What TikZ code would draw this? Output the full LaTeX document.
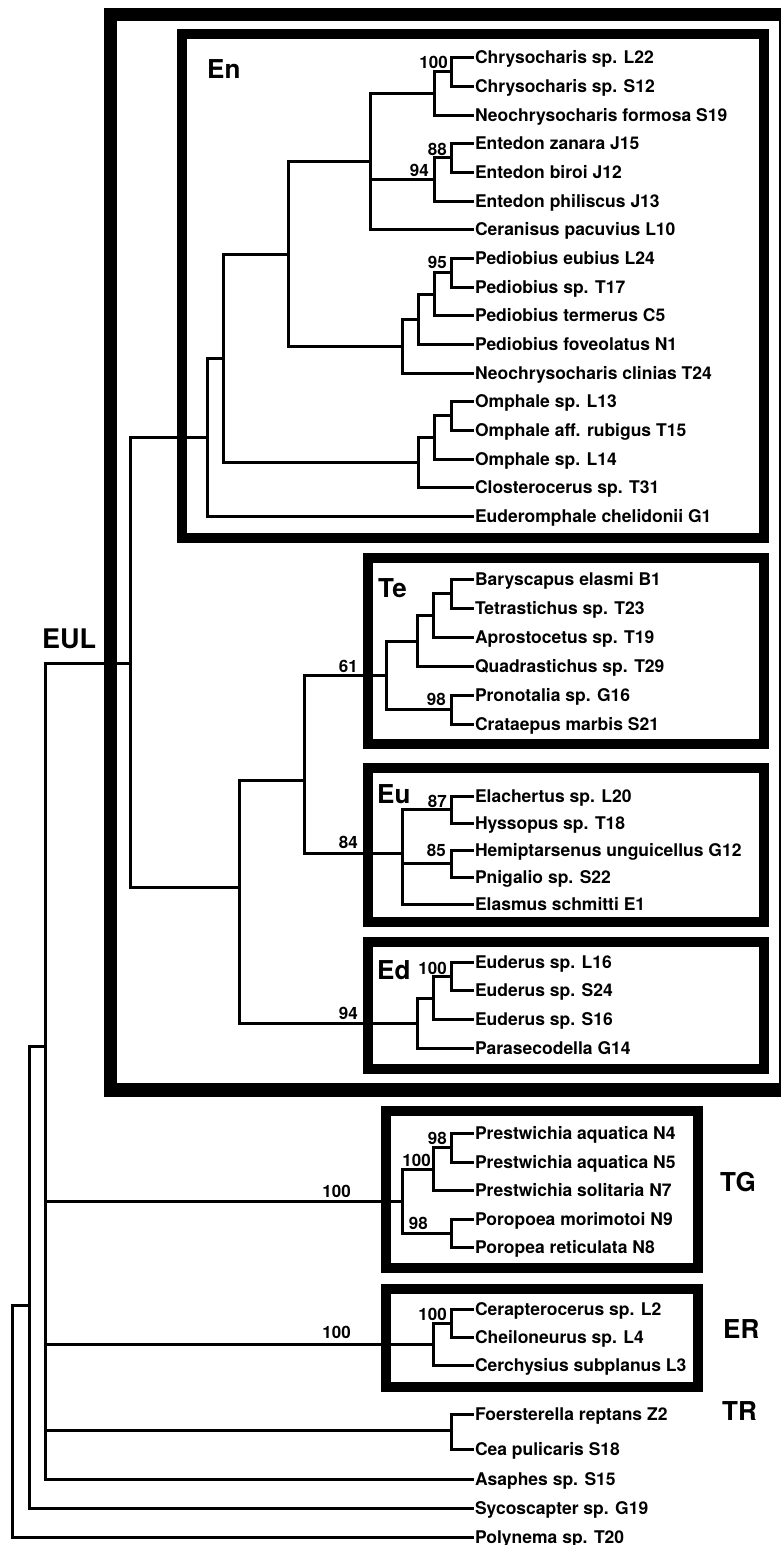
\documentclass[tikz,border=0pt]{standalone}
\usepackage{fontspec}
\setmainfont{TeX Gyre Heros}
\begin{document}
\begin{tikzpicture}[x=1pt, y=-1pt,
  branch/.style={line width=3pt, line join=miter, line cap=rect},
  cladebox/.style={line width=10pt},
  taxon/.style={anchor=west, inner xsep=3pt, inner ysep=0pt, outer sep=0pt,
    text height=12.6pt, text depth=0pt, font=\bfseries\fontsize{17.5}{20}\selectfont},
  support/.style={anchor=base east, inner sep=0pt, font=\bfseries\fontsize{17}{20}\selectfont},
  group/.style={anchor=base west, inner sep=0pt, font=\bfseries\fontsize{26}{30}\selectfont}]
  \useasboundingbox (0,0) rectangle (781,1545);
  \clip (0,0) rectangle (781,1545);

  % draw clade boxes
  \draw[line width=13.5pt] (110.5,14.5) rectangle (785.75,1090);
  \draw[cladebox] (182,34)    rectangle (763.5,538);
  \draw[cladebox] (368,557.5) rectangle (763.5,743.5);
  \draw[cladebox] (368,768)   rectangle (763.5,921.5);
  \draw[cladebox] (368,941.5) rectangle (764,1068.5);
  \draw[cladebox] (386,1111)  rectangle (697.5,1268);
  \draw[cladebox] (386,1288.5) rectangle (697.5,1386.5);

  % draw taxa
  \foreach \name/\y/\txt in {
    tL22/57/Chrysocharis sp. L22, tS12/86/Chrysocharis sp. S12,
    tS19/115/Neochrysocharis formosa S19, tJ15/143/Entedon zanara J15,
    tJ12/172/Entedon biroi J12, tJ13/201/Entedon philiscus J13,
    tL10/229/Ceranisus pacuvius L10, tL24/258/Pediobius eubius L24,
    tT17/287/Pediobius sp. T17, tC5/315/Pediobius termerus C5,
    tN1/344/Pediobius foveolatus N1, tT24/373/Neochrysocharis clinias T24,
    tL13/401/Omphale sp. L13, tT15/430/Omphale aff. rubigus T15,
    tL14/459/Omphale sp. L14, tT31/487/Closterocerus sp. T31,
    tG1/516/Euderomphale chelidonii G1,
    tB1/579/Baryscapus elasmi B1, tT23/608/Tetrastichus sp. T23,
    tT19/637/Aprostocetus sp. T19, tT29/666/Quadrastichus sp. T29,
    tG16/695/Pronotalia sp. G16, tS21/724/Crataepus marbis S21,
    tL20/796/Elachertus sp. L20, tT18/823/Hyssopus sp. T18,
    tG12/850/Hemiptarsenus unguicellus G12, tS22/877/Pnigalio sp. S22,
    tE1/904/Elasmus schmitti E1,
    tL16/962/Euderus sp. L16, tS24/990/Euderus sp. S24,
    tS16/1019/Euderus sp. S16, tG14/1048/Parasecodella G14,
    tN4/1133/Prestwichia aquatica N4, tN5/1162/Prestwichia aquatica N5,
    tN7/1190/Prestwichia solitaria N7, tN9/1219/Poropoea morimotoi N9,
    tN8/1247/Poropea reticulata N8,
    tL2/1309/Cerapterocerus sp. L2, tL4/1337/Cheiloneurus sp. L4,
    tL3/1365/Cerchysius subplanus L3,
    tZ2/1414/Foersterella reptans Z2, tS18/1449/Cea pulicaris S18,
    tS15/1479/Asaphes sp. S15, tG19/1508/Sycoscapter sp. G19,
    tT20/1537/Polynema sp. T20}
  \node[taxon] (\name) at (472,\y) {\txt};

  % internal nodes
  \foreach \name/\x/\y in {
    c100/451/71.5, cChry/434/93.5, c88/451/157.5, c94/434/179, cEnt/370/161.5,
    c95/451/272.5, cPa/434/294, cPb/418/319, cPc/402/346, cA/288/254,
    cOa/451/415.5, cOb/434/437, cOc/418/462, cB/223/358, cEn/207/437,
    cTa/451/593.5, cTb/433/615, cTc/417/641, c98a/451/709.5, c61/386/675,
    c87/451/809.5, c85/451/863.5, cEu/402/853, cTeEu/304/780,
    c100b/451/976, cEb/433/998, cEc/417/1023, cR/239/887, cEUL/130/663,
    c98b/451/1147.5, c100c/433/1169, c98c/451/1233, cTG/402/1201,
    c100d/451/1323, cER/433/1344, cTR/451/1430,
    cIn/45/1046, cOut/29/1305, cRoot/12/1305}
  \coordinate (\name) at (\x,\y);

  % draw branches
  \foreach \p/\c in {
    c100/tL22.west, c100/tS12.west, cChry/c100, cChry/tS19.west,
    c88/tJ15.west, c88/tJ12.west, c94/c88, c94/tJ13.west,
    cEnt/cChry, cEnt/c94, cEnt/tL10.west,
    c95/tL24.west, c95/tT17.west, cPa/c95, cPa/tC5.west,
    cPb/cPa, cPb/tN1.west, cPc/cPb, cPc/tT24.west, cA/cEnt, cA/cPc,
    cOa/tL13.west, cOa/tT15.west, cOb/cOa, cOb/tL14.west,
    cOc/cOb, cOc/tT31.west, cB/cA, cB/cOc, cEn/cB, cEn/tG1.west,
    cTa/tB1.west, cTa/tT23.west, cTb/cTa, cTb/tT19.west,
    cTc/cTb, cTc/tT29.west, c98a/tG16.west, c98a/tS21.west,
    c61/cTc, c61/c98a,
    c87/tL20.west, c87/tT18.west, c85/tG12.west, c85/tS22.west,
    cEu/c87, cEu/c85, cEu/tE1.west, cTeEu/c61, cTeEu/cEu,
    c100b/tL16.west, c100b/tS24.west, cEb/c100b, cEb/tS16.west,
    cEc/cEb, cEc/tG14.west, cR/cTeEu, cR/cEc, cEUL/cEn, cEUL/cR,
    c98b/tN4.west, c98b/tN5.west, c100c/c98b, c100c/tN7.west,
    c98c/tN9.west, c98c/tN8.west, cTG/c100c, cTG/c98c,
    c100d/tL2.west, c100d/tL4.west, cER/c100d, cER/tL3.west,
    cTR/tZ2.west, cTR/tS18.west,
    cIn/cEUL, cIn/cTG, cIn/cER, cIn/cTR, cIn/tS15.west,
    cOut/cIn, cOut/tG19.west, cRoot/cOut, cRoot/tT20.west}
  \draw[branch] (\p) |- (\c);

  % support values
  \foreach \name/\x/\y/\val in {
    s100a/448/68/100, s88/447/155/88, s94a/429/176/94, s95/447/268/95,
    s61/358/672/61, s98a/446/705/98, s87/447/807/87, s84/358/848/84,
    s85/446/856/85, s100b/447/974/100, s94b/358/1019/94,
    s98b/447/1144/98, s100c/431/1166/100, s98c/428/1229/98, s100d/351/1197/100,
    s100e/447/1320/100, s100f/351/1338/100}
  \node[support] (\name) at (\x,\y) {\val};

  % group labels
  \node[group] (lEn) at (207,78) {En};
  \node[group] (lTe) at (378,597) {Te};
  \node[group] (lEu) at (377,803) {Eu};
  \node[group] (lEd) at (377,979) {Ed};
  \node[group, font=\bfseries\fontsize{27}{30}\selectfont] (lEUL) at (42,648) {EUL};
  \node[group] (lTG) at (720,1191) {TG};
  \node[group] (lER) at (723,1338) {ER};
  \node[group] (lTR) at (722,1420) {TR};
\end{tikzpicture}
\end{document}
